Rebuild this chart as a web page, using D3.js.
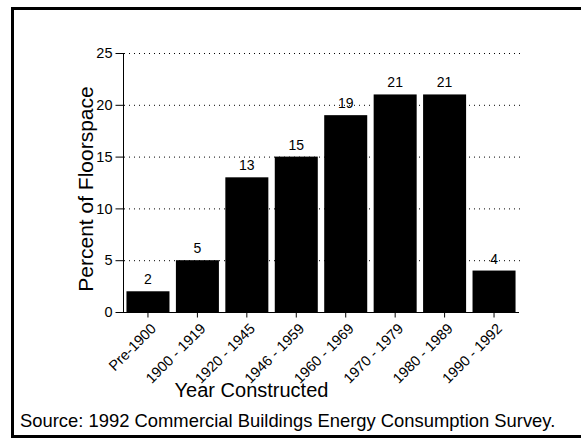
<!DOCTYPE html>
<html>
<head>
<meta charset="utf-8">
<script src="https://cdn.jsdelivr.net/npm/d3@7"></script>
<style>
  body { margin: 0; background: #fff; }
  text { font-family: "Liberation Sans", Arial, sans-serif; fill: #000; }
</style>
</head>
<body>
<svg id="chart" width="581" height="439"></svg>
<script>
// chart data
var periods = ["Pre-1900", "1900 - 1919", "1920 - 1945", "1946 - 1959",
               "1960 - 1969", "1970 - 1979", "1980 - 1989", "1990 - 1992"];
var floorspace = [2, 5, 13, 15, 19, 21, 21, 4];
var yTicks = [0, 5, 10, 15, 20, 25];

var svg = d3.select("#chart");

// outer frame
svg.append("rect")
    .attr("x", 12.5)
    .attr("y", 8.5)
    .attr("width", 572)
    .attr("height", 428)
    .style("fill", "none")
    .style("stroke", "#000")
    .style("stroke-width", 3);

var x = d3.scaleBand()
    .domain(periods)
    .range([123, 519])
    .paddingInner(0.13)
    .paddingOuter(0.07);

var y = d3.scaleLinear()
    .domain([0, 25])
    .range([312, 53]);

// dotted gridlines
svg.append("g")
    .selectAll("line")
    .data(yTicks.filter(function (d) { return d > 0; }))
    .enter()
    .append("line")
    .attr("x1", 124)
    .attr("x2", 520)
    .attr("y1", function (d) { return y(d) + 0.5; })
    .attr("y2", function (d) { return y(d) + 0.5; })
    .style("stroke", "#000")
    .style("stroke-width", 1)
    .style("stroke-dasharray", "1,4");

// bars
svg.append("g")
    .selectAll("rect")
    .data(floorspace)
    .enter()
    .append("rect")
    .attr("x", function (d, i) { return x(periods[i]); })
    .attr("y", function (d) { return y(d); })
    .attr("width", x.bandwidth())
    .attr("height", function (d) { return y(0) - y(d); })
    .style("fill", "#000");

// value labels
svg.append("g")
    .selectAll("text")
    .data(floorspace)
    .enter()
    .append("text")
    .attr("x", function (d, i) { return x(periods[i]) + x.bandwidth() / 2; })
    .attr("y", function (d) { return y(d) - 7; })
    .attr("text-anchor", "middle")
    .style("font-size", "14px")
    .text(function (d) { return d; });

// y axis
var yAxis = svg.append("g")
    .attr("transform", "translate(123.5,0)")
    .call(d3.axisLeft(y).tickValues(yTicks).tickSize(8).tickPadding(3));
yAxis.select(".domain").attr("d", "M0," + y(25) + "V" + y(0));
yAxis.selectAll("text")
    .style("font-size", "14.5px")
    .style("font-family", "Liberation Sans, Arial, sans-serif");

// x axis, labels slanted
var xAxis = svg.append("g")
    .attr("transform", "translate(0," + (y(0) + 0.5) + ")")
    .call(d3.axisBottom(x).tickSize(5).tickSizeOuter(0));
xAxis.select(".domain").attr("d", "M116,0H519");
xAxis.selectAll("text")
    .style("font-size", "14.5px")
    .style("font-family", "Liberation Sans, Arial, sans-serif")
    .attr("text-anchor", "end")
    .attr("dy", null)
    .attr("y", 0)
    .attr("transform", "translate(9,17) rotate(-45)");

// axis titles
svg.append("text")
    .attr("transform", "translate(93,189) rotate(-90)")
    .attr("text-anchor", "middle")
    .style("font-size", "21px")
    .text("Percent of Floorspace");

svg.append("text")
    .attr("x", 251.5)
    .attr("y", 397)
    .attr("text-anchor", "middle")
    .style("font-size", "20px")
    .text("Year Constructed");

svg.append("text")
    .attr("x", 20)
    .attr("y", 427)
    .style("font-size", "18.4px")
    .text("Source: 1992 Commercial Buildings Energy Consumption Survey.");
</script>
</body>
</html>
